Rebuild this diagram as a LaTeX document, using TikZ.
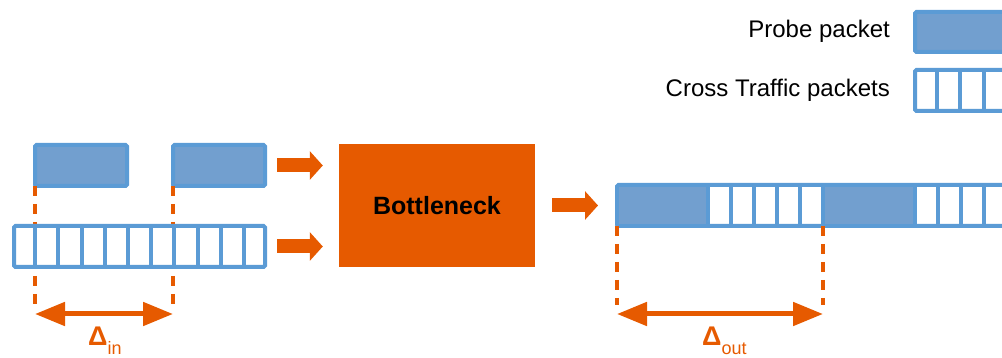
\documentclass[tikz,border=0pt]{standalone}
\usepackage{fontspec}
\setmainfont{Liberation Sans}
\usetikzlibrary{arrows.meta,calc}
\definecolor{linkblue}{RGB}{91,155,213}
\definecolor{probefill}{RGB}{114,159,207}
\definecolor{hotorange}{RGB}{230,90,0}

\begin{document}
\begin{tikzpicture}[x=1pt,y=-1pt,
  probe/.style={draw=linkblue, fill=probefill, line width=4pt, rounded corners=1.5pt,
    minimum width=92pt, minimum height=41pt, inner sep=0pt, outer sep=0pt},
  trainbar/.style={draw=linkblue, fill=white, line width=4pt, rounded corners=1.5pt,
    minimum height=41pt, inner sep=0pt, outer sep=0pt},
  probeslot/.style={fill=probefill, minimum height=37pt, inner sep=0pt, outer sep=0pt},
  divider/.style={linkblue, line width=4pt},
  guide/.style={hotorange, line width=4pt, dash pattern=on 10pt off 8pt},
  span/.style={hotorange, line width=5pt,
    {Triangle[length=30pt,width=23pt]}-{Triangle[length=30pt,width=23pt]}},
  flow/.style={hotorange, line width=14pt, -{Triangle[length=13pt,width=28pt]}},
  legendtext/.style={anchor=base east, inner sep=0pt, font=\fontsize{24}{28}\selectfont},
  deltalabel/.style={anchor=base west, inner sep=0pt, text=hotorange,
    font=\bfseries\fontsize{27}{30}\selectfont}
]
\useasboundingbox (0,0) rectangle (1002,358);

% ---------- legend ----------
\node[legendtext] (lp) at (890,38) {Probe packet};
\node[legendtext] (lc) at (890,97) {Cross Traffic packets};
\node[probe, minimum width=145pt, minimum height=40pt] (legprobe) at (987.5,32) {};
\node[trainbar, minimum width=145pt] (legcross) at (987.5,90.5) {};
\foreach \k in {1,...,4}
  \draw[divider] ([xshift=23.5*\k-2]legcross.north west) -- ([xshift=23.5*\k-2]legcross.south west);

% ---------- input side ----------
\node[probe] (pa) at (81,165.5) {};
\node[probe] (pb) at (219,165.5) {};

\coordinate (inlow) at (0,308);
\coordinate (inlevel) at (0,314);
\draw[guide] (pa.south west) -- (pa.west |- inlow);
\draw[guide] (pb.south west) -- (pb.west |- inlow);

\node[trainbar, minimum width=251pt] (cross) at (139.5,246.5) {};
\foreach \k in {1,...,10}
  \draw[divider] ([xshift=23.2*\k-2]cross.north west) -- ([xshift=23.2*\k-2]cross.south west);

\coordinate (inL) at (pa.west |- inlevel);
\coordinate (inR) at (pb.west |- inlevel);
\draw[span] (inL) -- (inR);
\node[deltalabel] (din) at (88,345) {Δ\raisebox{-9.5pt}{\mdseries\fontsize{18}{18}\selectfont in}};

% ---------- bottleneck ----------
\node[fill=hotorange, minimum width=196pt, minimum height=123pt, inner sep=0pt,
  font=\bfseries\fontsize{25}{30}\selectfont] (bn) at (437,205.5) {Bottleneck};

\draw[flow] ($(pb.east)+(12,0)$) -- ($(bn.west |- pb.east)+(-16,0)$);
\draw[flow] ($(cross.east)+(12,0)$) -- ($(bn.west |- cross.east)+(-16,0)$);

% ---------- output side ----------
\node[trainbar, minimum width=443pt] (outbar) at (838.5,205.5) {};
\node[probeslot, minimum width=89pt] (oa) at (663.5,205.5) {};
\node[probeslot, minimum width=92pt] (ob) at (869,205.5) {};
\foreach \x in {708,731,754,777,800,823,915,938,961,984,1007}
  \draw[divider] (\x,185) -- (\x,226);

\draw[flow] ($(bn.east)+(17,0)$) -- ($(outbar.west)+(-19,0)$);

\coordinate (outlow) at (0,305);
\coordinate (outlevel) at (0,314);
\draw[guide] (outbar.south west) -- (outbar.west |- outlow);
\draw[guide] (ob.west |- outbar.south) -- (ob.west |- outlow);

\coordinate (outL) at (outbar.west |- outlevel);
\coordinate (outR) at (ob.west |- outlevel);
\draw[span] (outL) -- (outR);
\node[deltalabel] (dout) at (702,345) {Δ\raisebox{-9.5pt}{\mdseries\fontsize{18}{18}\selectfont out}};
\end{tikzpicture}
\end{document}
